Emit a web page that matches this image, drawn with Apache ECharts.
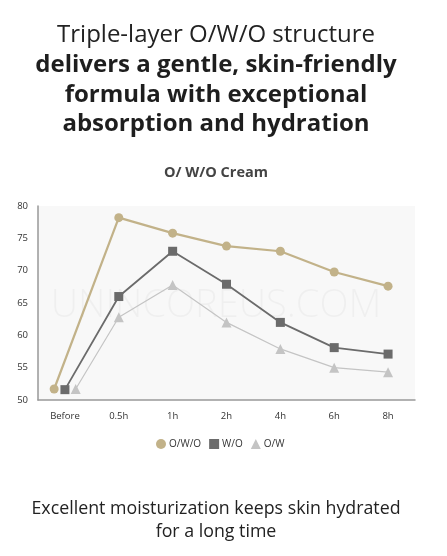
<!DOCTYPE html>
<html>
<head>
<meta charset="utf-8">
<script src="https://cdn.jsdelivr.net/npm/echarts@6/dist/echarts.min.js"></script>
<style>
  html, body { margin: 0; padding: 0; background: #fff; }
  #container { width: 447px; height: 556px; }
</style>
</head>
<body>
<div id="container"></div>
<script>
// time points on the x axis
const timePoints = ['Before', '0.5h', '1h', '2h', '4h', '6h', '8h'];
// small shift of the "Before" markers so they do not overlap
const beforeShift = { 'O/W/O': -0.2, 'W/O': 0, 'O/W': 0.2 };

const owoValues = [51.7, 78.2, 75.8, 73.8, 73.0, 69.8, 67.6];
const woValues = [51.6, 66.0, 73.0, 67.9, 62.0, 58.1, 57.1];
const owValues = [51.7, 62.8, 67.8, 62.0, 57.9, 55.0, 54.3];

const yTicks = [50, 55, 60, 65, 70, 75, 80];

const FONT = '"Open Sans", "Noto Sans", sans-serif';
const CX = 216;

function toPoints(name, values) {
    return values.map((v, i) => [i === 0 ? i + beforeShift[name] : i, v]);
}

function label(text, y, size, weight, color, lineHeight) {
    return {
        type: 'text',
        x: CX,
        y: y,
        silent: true,
        style: {
            text: text,
            fontFamily: FONT,
            fontSize: size,
            fontWeight: weight,
            fill: color,
            lineHeight: lineHeight || size * 1.2,
            align: 'center',
            verticalAlign: 'top'
        }
    };
}

const chart = echarts.init(document.getElementById('container'), null, { renderer: 'canvas' });

const option = {
    backgroundColor: '#fff',
    animation: false,
    textStyle: { fontFamily: FONT },
    legend: {
        top: 434,
        left: 151,
        itemWidth: 10,
        itemHeight: 10,
        itemGap: 8,
        selectedMode: false,
        textStyle: { fontSize: 10, color: '#333', padding: [0, 0, 0, -2] },
        data: [
            { name: 'O/W/O', icon: 'circle' },
            { name: 'W/O', icon: 'rect' },
            { name: 'O/W', icon: 'triangle' }
        ]
    },
    grid: {
        left: 38, right: 32, top: 206, bottom: 156,
        show: true,
        backgroundColor: '#f8f8f8',
        borderWidth: 0
    },
    graphic: [
        label('Triple-layer O/W/O structure', 20, 24, 'normal', '#222', 30),
        label('delivers a gentle, skin-friendly\nformula with exceptional\nabsorption and hydration', 51, 24, 'bold', '#1e1e1e', 29.3),
        label('O/ W/O Cream', 164, 14.5, 'bold', '#444'),
        label('Excellent moisturization keeps skin hydrated\nfor a long time', 497, 17.8, 'normal', '#222', 23),
        {
            type: 'text',
            x: CX,
            y: 287,
            silent: true,
            z: 1,
            style: {
                text: 'UNINCOREUS.COM',
                fontFamily: FONT,
                fontSize: 38,
                fontWeight: 300,
                fill: 'rgba(0,0,0,0.035)',
                align: 'center',
                verticalAlign: 'top'
            }
        }
    ],
    xAxis: [
        {
            type: 'category',
            data: timePoints,
            boundaryGap: true,
            axisLine: { lineStyle: { color: '#999', width: 1.5 } },
            axisTick: { show: false },
            axisLabel: { fontSize: 9.5, color: '#333', margin: 11 }
        },
        {
            type: 'value',
            min: -0.5,
            max: 6.5,
            show: false
        }
    ],
    yAxis: {
        type: 'value',
        min: yTicks[0],
        max: yTicks[yTicks.length - 1],
        interval: 5,
        axisLine: { show: true, onZero: false, lineStyle: { color: '#999', width: 1.5 } },
        axisTick: { show: false },
        splitLine: { show: false },
        axisLabel: { fontSize: 9.5, color: '#333', margin: 10 }
    },
    series: [
        {
            name: 'O/W/O',
            type: 'line',
            xAxisIndex: 1,
            data: toPoints('O/W/O', owoValues),
            symbol: 'circle',
            symbolSize: 9,
            itemStyle: { color: '#c2b289' },
            lineStyle: { width: 2.2, color: '#c2b289' },
            z: 4
        },
        {
            name: 'W/O',
            type: 'line',
            xAxisIndex: 1,
            data: toPoints('W/O', woValues),
            symbol: 'rect',
            symbolSize: 9,
            itemStyle: { color: '#6b6b6b' },
            lineStyle: { width: 1.8, color: '#6b6b6b' },
            z: 3
        },
        {
            name: 'O/W',
            type: 'line',
            xAxisIndex: 1,
            data: toPoints('O/W', owValues),
            symbol: 'triangle',
            symbolSize: 10,
            itemStyle: { color: '#c4c4c4' },
            lineStyle: { width: 1.2, color: '#c4c4c4' },
            z: 2
        }
    ]
};

chart.setOption(option);
window.addEventListener('resize', () => chart.resize());
</script>
</body>
</html>
